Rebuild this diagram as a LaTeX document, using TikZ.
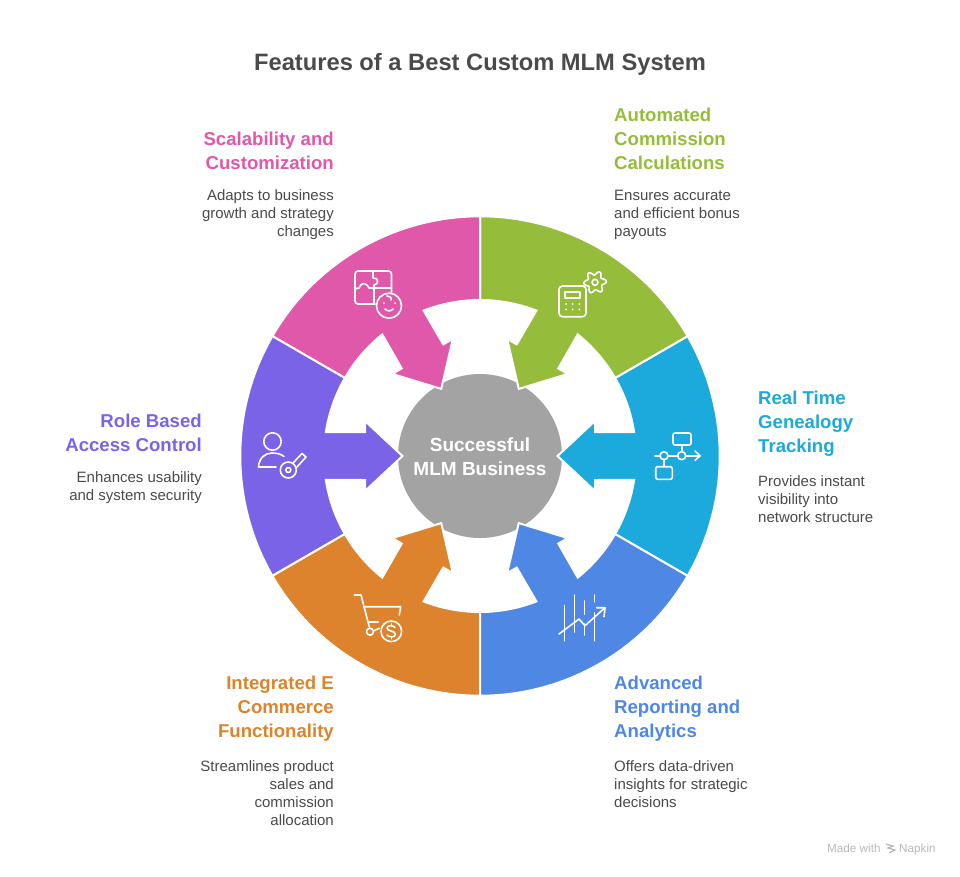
\documentclass[tikz,border=0pt]{standalone}
\usepackage{fontspec}
\setmainfont{Liberation Sans}
\definecolor{pinkc}{HTML}{DF58A9}
\definecolor{greenc}{HTML}{95BC3B}
\definecolor{cyanc}{HTML}{1CA9DC}
\definecolor{bluec}{HTML}{4F87E5}
\definecolor{orangec}{HTML}{DD832E}
\definecolor{purplec}{HTML}{7B63E8}
\definecolor{hubc}{HTML}{A3A3A3}
\definecolor{inkc}{HTML}{4A4A4A}
\definecolor{markc}{HTML}{B8B8B8}
\tikzset{
  titletext/.style={font=\fontsize{23.7}{30}\selectfont\bfseries,text=inkc,inner sep=0pt},
  headtext/.style={font=\fontsize{18.6}{24}\selectfont\bfseries,inner sep=0pt},
  bodytext/.style={font=\fontsize{15}{18}\selectfont,text=inkc,inner sep=0pt},
  marktext/.style={font=\fontsize{11.7}{14}\selectfont,text=markc,inner sep=0pt},
  petaledge/.style={draw=white,line width=2pt,line join=miter},
  iconline/.style={draw=white,line width=1.6pt,line cap=round,line join=round},
}
\newcommand{\petal}[2]{%
  \begin{scope}[shift={(480,456)},x=1pt,y=1pt,rotate=#1]
    \filldraw[petaledge,fill=#2] (-30:239.7) arc (-30:30:239.7) -- (30:156) arc (30:8.8:156)
      -- (115,24) -- (115,35) -- (77.5,0) -- (115,-35) -- (115,-24)
      -- (-8.8:156) arc (-8.8:-30:156) -- cycle;
  \end{scope}}
\begin{document}
\begin{tikzpicture}[x=1pt,y=-1pt]
  \useasboundingbox (0,0) rectangle (960,876);
  \node[titletext] (title) at (480,64.5) {Features of a Best Custom MLM System};
  % hub and the six petals
  \node[circle,fill=hubc,minimum size=164pt,inner sep=0pt] (hub) at (480,456) {};
  \node[text=white,align=center,inner sep=0pt,
        font=\fontsize{19}{24}\selectfont\bfseries] (hubtext) at (480,457) {Successful\\MLM Business};
  \petal{0}{cyanc}
  \petal{60}{greenc}
  \petal{120}{pinkc}
  \petal{180}{purplec}
  \petal{240}{orangec}
  \petal{300}{bluec}
  % pink
  \node[headtext,text=pinkc,left,align=right] (pinkhead) at (334,151) {Scalability and\\Customization};
  \node[bodytext,left,align=right] (pinkbody) at (334,214.7) {Adapts to business\\growth and strategy\\changes};
  % green
  \node[headtext,text=greenc,right,align=left] (greenhead) at (614,139) {Automated\\Commission\\Calculations};
  \node[bodytext,right,align=left] (greenbody) at (614,214.7) {Ensures accurate\\and efficient bonus\\payouts};
  % cyan
  \node[headtext,text=cyanc,right,align=left] (cyanhead) at (758,424) {Real Time\\Genealogy\\Tracking};
  \node[bodytext,right,align=left] (cyanbody) at (758,499) {Provides instant\\visibility into\\network structure};
  % blue
  \node[headtext,text=bluec,right,align=left] (bluehead) at (614,709) {Advanced\\Reporting and\\Analytics};
  \node[bodytext,right,align=left] (bluebody) at (614,784) {Offers data-driven\\insights for strategic\\decisions};
  % orange
  \node[headtext,text=orangec,left,align=right] (orangehead) at (334,709) {Integrated E\\Commerce\\Functionality};
  \node[bodytext,left,align=right] (orangebody) at (334,793) {Streamlines product\\sales and\\commission\\allocation};
  % purple
  \node[headtext,text=purplec,left,align=right] (purplehead) at (202,433) {Role Based\\Access Control};
  \node[bodytext,left,align=right] (purplebody) at (202,487.5) {Enhances usability\\and system security};
  % puzzle and face icon
  \draw[iconline] (375,304) -- (358,304) arc (90:180:3) -- (355,274) arc (180:270:3) -- (388.5,271) arc (270:360:3) -- (391.5,293);
  \draw[iconline] (373,271) -- (373,278) .. controls (379,277) and (379,285) .. (374,285) -- (374,304);
  \draw[iconline] (355,289) -- (359,288) .. controls (361,282) and (366,282) .. (369,288) -- (391,288);
  \fill[pinkc] (389,305.7) circle (12.5);
  \draw[iconline] (389,305.7) circle (12.5);
  \draw[iconline] (385,309) .. controls (387,311.5) and (391,311.5) .. (393,309);
  \draw[iconline] (387,296) .. controls (390,297) and (392,297) .. (391,300);
  \fill[white] (384,303) circle (1) (395,303) circle (1);
  % calculator and gear icon
  \draw[iconline,rounded corners=3.5pt] (559,286) rectangle (586,316.7);
  \draw[iconline] (565,292) rectangle (580,298);
  \fill[white] (566,304) circle (1) (572.7,304) circle (1) (579.3,304) circle (1)
               (566,309.5) circle (1) (572.7,309.5) circle (1) (579.3,309.5) circle (1);
  \draw[iconline] (595,282.3) circle (3);
  \draw[iconline,shift={(595,282.3)}] plot[domain=0:360,samples=73,smooth] (\x:{9.3+2*cos(6*\x+30)});
  % flow icon
  \draw[iconline,rounded corners=2pt] (673,433) rectangle (691,445);
  \draw[iconline,rounded corners=2pt] (655.7,466.7) rectangle (672.3,479.3);
  \draw[iconline] (664,455.7) circle (4) (681.7,455.7) circle (4);
  \draw[iconline] (655,455.7) -- (660,455.7) (668,455.7) -- (677.7,455.7) (685.7,455.7) -- (700,455.7);
  \draw[iconline] (695,451) -- (700,455.7) -- (695,460.4);
  \draw[iconline] (681.7,445) -- (681.7,451.7) (664,459.7) -- (664,466.7);
  % person and key icon
  \draw[iconline] (272.5,441.5) circle (8.7);
  \draw[iconline] (276,467) -- (258.5,467) .. controls (259,458) and (265,453) .. (272,453) .. controls (277,453) and (281,454) .. (284,456.5);
  \draw[iconline] (288.3,470) circle (8) (288.3,470) circle (2.5);
  \draw[iconline] (293.5,462.5) -- (302,453.5) -- (306,457) -- (296.5,467.5);
  % cart and coin icon
  \draw[iconline] (354.3,595) -- (361,595) -- (369.3,627);
  \draw[iconline] (363.5,606.7) -- (400.7,606.7) -- (399.3,615);
  \draw[iconline] (369.3,621.7) -- (378.3,621.7);
  \draw[iconline] (370,631.7) circle (3.5);
  \draw[iconline] (373.3,631) -- (379.3,628.3);
  \draw[iconline] (391.3,631.3) circle (10.3);
  \draw[iconline] (395,627.5) .. controls (393,625) and (387,625) .. (387,628) .. controls (387,631.5) and (395.5,630.5) .. (395.5,634.5) .. controls (395.5,637.5) and (389,637.5) .. (387,635);
  \draw[iconline] (391.3,623.8) -- (391.3,625.5) (391.3,637) -- (391.3,638.8);
  % chart icon
  \draw[iconline] (564.3,605.7) -- (564.3,640.7) (574.3,595) -- (574.3,632);
  \draw[iconline] (584.3,601) -- (584.3,614.3) (584.3,624) -- (584.3,635);
  \draw[iconline] (594.3,595) -- (594.3,601.7) (594.3,613) -- (594.3,640.7);
  \draw[iconline] (559,634) -- (579,619) -- (585,625.7) -- (605,607.7);
  \draw[iconline] (596.7,607.7) -- (605,607.7) -- (604,616.7);
  % watermark
  \node[marktext,anchor=base west] (madewith) at (827,852.5) {Made with};
  \draw[markc,line width=1.2pt] (886,844) -- (893,846) -- (888,848) -- (895,850) -- (889,853);
  \node[marktext,anchor=base west] (napkin) at (899,852.5) {Napkin};
\end{tikzpicture}
\end{document}
